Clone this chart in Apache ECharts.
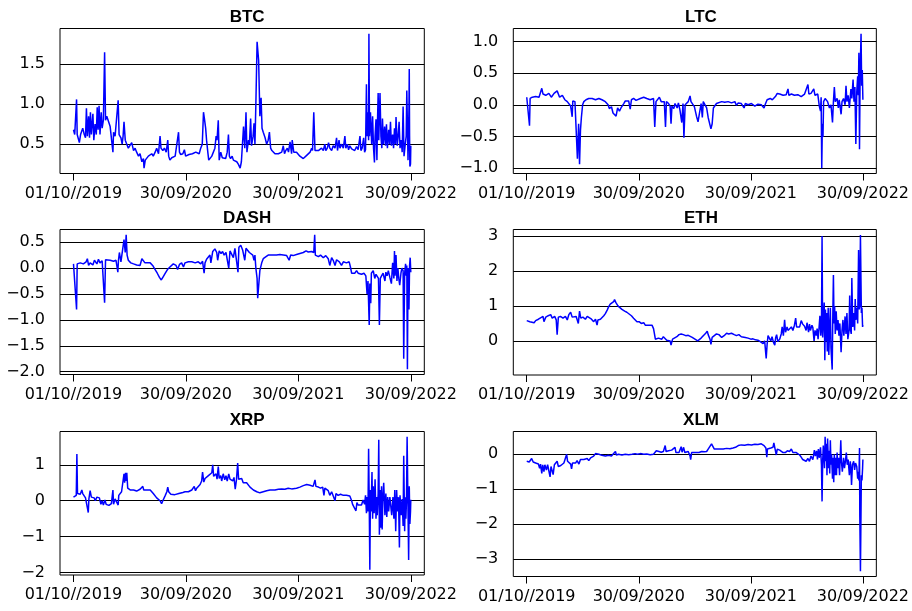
<!DOCTYPE html>
<html>
<head>
<meta charset="utf-8">
<title>Crypto series</title>
<script src="https://cdn.jsdelivr.net/npm/echarts@6/dist/echarts.min.js"></script>
<style>
  html, body { margin: 0; padding: 0; background: #fff; }
  #chart { width: 912px; height: 611px; }
</style>
</head>
<body>
<div id="chart"></div>
<script>
// Day offsets from 01/10/2019 and their axis labels
const dateTicks = [0, 365, 730, 1095];
const dateLabels = ['01/10//2019', '30/09/2020', '30/09/2021', '30/09/2022'];

// Series: [day, value]
const btc = [[0,0.68],[4,0.62],[9,0.63],[10,1.06],[12,0.62],[16,0.60],[19,0.52],[23,0.62],[27,0.60],[30,0.70],[35,0.62],[39,0.58],[42,0.95],[45,0.60],[49,0.85],[52,0.58],[55,0.90],[58,0.62],[63,0.88],[66,0.55],[70,0.75],[74,0.62],[77,0.96],[80,0.68],[83,0.98],[86,0.62],[90,0.90],[93,0.70],[97,0.80],[101,1.65],[104,0.80],[108,0.85],[114,0.78],[119,0.72],[124,0.70],[128,0.40],[130,0.65],[135,0.60],[141,0.62],[145,1.05],[148,0.62],[154,0.58],[158,0.50],[161,0.60],[164,0.78],[168,0.55],[173,0.50],[178,0.45],[184,0.45],[189,0.52],[195,0.42],[200,0.45],[205,0.40],[211,0.35],[216,0.38],[222,0.28],[227,0.32],[229,0.20],[233,0.30],[238,0.28],[243,0.35],[249,0.33],[254,0.38],[259,0.35],[265,0.40],[270,0.45],[276,0.38],[281,0.60],[284,0.45],[290,0.42],[295,0.45],[301,0.40],[306,0.55],[309,0.35],[313,0.30],[319,0.33],[324,0.32],[330,0.35],[335,0.33],[341,0.65],[344,0.40],[348,0.37],[355,0.38],[360,0.43],[364,0.35],[370,0.35],[375,0.37],[381,0.35],[386,0.38],[391,0.36],[397,0.40],[402,0.42],[408,0.38],[413,0.45],[418,0.50],[422,0.90],[425,0.82],[429,0.70],[432,0.55],[436,0.40],[439,0.30],[443,0.28],[449,0.35],[454,0.33],[459,0.45],[463,0.60],[466,0.55],[470,0.80],[473,0.30],[478,0.40],[483,0.33],[489,0.35],[494,0.32],[499,0.40],[503,0.62],[506,0.35],[510,0.32],[515,0.35],[519,0.30],[524,0.32],[530,0.28],[535,0.25],[541,0.20],[545,0.28],[549,0.30],[552,0.72],[556,0.45],[560,0.90],[563,0.40],[568,0.55],[571,0.50],[575,0.82],[578,0.48],[583,0.60],[586,0.76],[589,0.50],[592,1.00],[596,1.78],[599,1.80],[601,1.55],[603,1.20],[605,0.85],[609,1.08],[612,0.70],[616,0.65],[622,0.58],[627,0.50],[632,0.55],[636,0.65],[640,0.45],[644,0.42],[649,0.40],[654,0.38],[659,0.36],[665,0.38],[670,0.40],[676,0.40],[681,0.48],[685,0.38],[689,0.42],[694,0.45],[698,0.40],[703,0.53],[708,0.38],[710,0.55],[715,0.40],[720,0.42],[724,0.40],[730,0.38],[735,0.35],[741,0.34],[746,0.32],[751,0.33],[757,0.36],[762,0.38],[768,0.40],[773,0.45],[776,0.42],[780,0.90],[784,0.42],[789,0.40],[795,0.42],[800,0.40],[805,0.45],[811,0.42],[816,0.50],[819,0.42],[824,0.45],[828,0.52],[832,0.45],[838,0.42],[843,0.48],[849,0.45],[854,0.58],[857,0.42],[862,0.55],[865,0.45],[870,0.50],[876,0.45],[881,0.60],[884,0.45],[889,0.50],[893,0.43],[897,0.48],[903,0.44],[908,0.46],[913,0.42],[919,0.47],[924,0.43],[930,0.60],[933,0.42],[937,0.45],[942,0.58],[945,0.40],[948,0.43],[951,1.25],[953,0.60],[955,0.90],[958,0.55],[959,1.88],[961,0.60],[964,0.90],[968,0.50],[971,0.85],[974,0.45],[977,0.27],[979,0.60],[982,0.81],[985,0.30],[987,0.80],[989,1.14],[991,0.55],[995,1.14],[998,0.60],[1001,0.45],[1003,0.82],[1006,0.50],[1010,0.72],[1013,0.48],[1016,0.75],[1019,0.45],[1023,0.68],[1026,0.50],[1029,0.78],[1032,0.48],[1036,0.62],[1039,0.45],[1042,0.70],[1045,0.50],[1047,0.84],[1051,0.48],[1054,0.60],[1057,0.78],[1060,0.45],[1064,0.55],[1067,0.40],[1070,0.97],[1073,0.35],[1077,0.50],[1080,0.60],[1082,1.17],[1084,1.15],[1086,0.30],[1089,0.95],[1090,1.44],[1091,0.60],[1092,0.22],[1094,0.25],[1095,0.48]];

const ltc = [[0,0.12],[5,0.12],[9,-0.33],[11,0.10],[18,0.12],[29,0.13],[40,0.12],[49,0.26],[53,0.17],[62,0.15],[72,0.18],[80,0.12],[89,0.18],[99,0.22],[107,0.12],[116,0.15],[124,0.08],[132,0.05],[137,0.08],[143,-0.02],[148,-0.19],[150,0.06],[157,0.05],[161,0.08],[165,-0.85],[169,-0.30],[172,-0.94],[175,-0.40],[178,-0.20],[182,0.00],[186,0.05],[193,0.08],[202,0.10],[213,0.10],[224,0.08],[235,0.10],[245,0.08],[256,0.05],[265,0.00],[269,-0.06],[276,-0.03],[281,-0.13],[286,-0.10],[291,-0.18],[296,-0.05],[302,-0.10],[307,-0.05],[310,-0.08],[316,0.02],[321,0.06],[326,0.08],[332,0.06],[337,-0.07],[341,0.08],[348,0.10],[356,0.07],[362,0.10],[370,0.10],[381,0.12],[391,0.10],[402,0.08],[413,0.10],[417,-0.35],[421,0.05],[427,0.07],[432,0.12],[438,0.05],[442,0.08],[448,0.05],[452,-0.35],[455,0.05],[462,0.02],[467,-0.02],[470,-0.30],[473,-0.02],[479,-0.06],[483,0.02],[490,-0.05],[494,0.03],[499,-0.08],[505,-0.28],[509,0.02],[512,-0.52],[516,0.00],[521,-0.03],[526,0.05],[532,0.14],[535,0.05],[539,0.02],[546,-0.03],[550,-0.02],[553,-0.18],[558,-0.27],[562,-0.15],[568,0.02],[572,-0.20],[575,0.05],[580,0.02],[586,-0.05],[591,-0.20],[597,-0.32],[600,-0.38],[604,-0.30],[608,-0.05],[613,-0.02],[618,0.02],[624,0.03],[635,0.05],[645,0.04],[656,0.05],[667,0.03],[678,0.05],[683,-0.01],[689,0.03],[699,0.02],[708,-0.05],[712,0.02],[721,0.00],[732,0.02],[743,-0.02],[753,0.01],[764,0.00],[773,-0.05],[777,0.01],[783,0.08],[788,0.05],[793,0.10],[800,0.08],[805,0.05],[810,0.13],[816,0.18],[824,0.17],[829,0.19],[835,0.15],[840,0.13],[845,0.16],[851,0.25],[854,0.15],[862,0.17],[872,0.15],[883,0.16],[894,0.13],[905,0.17],[910,0.14],[916,0.32],[919,0.17],[926,0.18],[935,0.25],[939,0.15],[948,0.17],[953,-0.02],[957,-0.10],[959,0.12],[961,-1.00],[963,-0.30],[965,-0.51],[967,0.05],[972,0.10],[975,0.12],[980,0.05],[986,-0.05],[991,0.00],[996,-0.28],[999,0.05],[1002,0.28],[1005,0.05],[1011,0.10],[1015,-0.05],[1018,0.08],[1024,-0.15],[1027,0.05],[1032,0.10],[1037,0.00],[1040,0.30],[1043,0.05],[1047,0.15],[1051,-0.05],[1056,0.25],[1059,0.10],[1063,0.40],[1066,0.05],[1069,0.28],[1072,-0.62],[1075,0.20],[1078,0.45],[1080,0.15],[1082,0.82],[1084,-0.70],[1086,0.50],[1089,1.12],[1091,0.30],[1093,0.55],[1095,0.08]];

const dash = [[0,0.08],[6,0.08],[10,-0.80],[12,0.08],[22,0.10],[32,0.08],[41,0.12],[45,0.18],[49,0.05],[54,0.10],[63,0.06],[68,0.15],[76,0.08],[81,0.17],[86,0.10],[93,0.14],[97,0.17],[101,-0.67],[104,0.16],[110,0.17],[119,0.15],[130,0.13],[138,0.15],[144,-0.08],[146,0.15],[149,0.30],[154,0.12],[160,0.15],[164,0.55],[168,0.30],[171,0.64],[174,0.25],[178,0.15],[186,0.10],[195,0.08],[205,0.06],[216,0.05],[222,0.18],[227,0.15],[232,0.10],[238,0.12],[249,0.10],[257,0.05],[265,-0.03],[272,-0.10],[279,-0.18],[285,-0.23],[292,-0.16],[298,-0.10],[305,-0.03],[313,0.02],[319,0.04],[324,0.08],[333,0.05],[338,-0.03],[344,0.07],[351,0.10],[357,0.02],[362,0.10],[373,0.12],[384,0.12],[395,0.10],[405,0.12],[413,0.08],[419,0.13],[424,-0.10],[427,0.10],[432,0.17],[438,0.20],[443,0.25],[446,0.10],[452,0.32],[459,0.37],[465,0.30],[468,0.15],[473,0.33],[479,0.28],[484,0.32],[489,0.25],[495,0.30],[504,0.00],[508,0.33],[513,0.35],[519,0.20],[524,0.38],[530,0.40],[534,-0.08],[537,0.40],[543,0.44],[549,0.35],[556,0.15],[560,0.38],[564,0.40],[571,0.30],[576,0.32],[582,0.25],[586,0.15],[589,0.25],[592,0.00],[596,-0.20],[598,-0.58],[601,-0.35],[605,-0.05],[611,0.10],[616,0.18],[625,0.22],[632,0.25],[643,0.25],[649,0.28],[659,0.25],[670,0.26],[681,0.25],[692,0.24],[700,0.15],[705,0.25],[713,0.24],[724,0.26],[735,0.28],[746,0.30],[755,0.33],[762,0.31],[773,0.32],[780,0.30],[783,0.64],[785,0.25],[795,0.22],[802,0.25],[811,0.20],[819,0.24],[827,0.18],[832,0.05],[838,0.20],[843,0.15],[849,0.05],[854,0.16],[863,0.12],[870,0.05],[876,0.12],[886,0.10],[895,0.12],[899,0.02],[903,-0.10],[913,-0.10],[919,-0.05],[924,-0.10],[935,-0.12],[943,-0.10],[949,-0.15],[953,-0.50],[956,-0.25],[960,-1.10],[962,-0.30],[965,-0.68],[967,-0.10],[973,-0.05],[978,-0.20],[982,-0.12],[986,-0.15],[990,-0.20],[993,-1.10],[996,-0.20],[1000,-0.15],[1005,-0.10],[1011,-0.25],[1014,-0.08],[1018,-0.15],[1022,-0.05],[1027,-0.18],[1032,-0.30],[1036,0.10],[1040,-0.20],[1042,0.33],[1044,-0.15],[1047,0.25],[1050,-0.25],[1053,0.00],[1056,-0.20],[1059,-0.33],[1063,-0.10],[1066,0.00],[1070,-0.05],[1072,-1.75],[1075,-0.10],[1078,0.08],[1080,-0.15],[1082,0.05],[1084,-1.95],[1086,0.00],[1089,-0.80],[1091,0.05],[1093,0.20],[1095,-0.08]];

const eth = [[0,0.58],[5,0.60],[10,0.55],[16,0.60],[24,0.52],[29,0.58],[38,0.62],[45,0.66],[53,0.70],[56,0.55],[62,0.68],[70,0.72],[78,0.75],[83,0.65],[91,0.70],[96,0.60],[99,0.18],[103,0.68],[110,0.70],[118,0.65],[126,0.70],[132,0.60],[137,0.75],[143,0.82],[148,0.68],[154,0.72],[161,0.70],[168,0.50],[172,0.85],[176,0.65],[183,0.68],[191,0.62],[197,0.70],[202,0.65],[211,0.62],[218,0.55],[224,0.62],[229,0.45],[232,0.60],[240,0.62],[245,0.65],[251,0.72],[256,0.78],[262,0.88],[267,0.98],[272,1.05],[278,1.05],[283,1.12],[286,1.18],[290,1.10],[294,1.15],[297,1.00],[303,0.95],[310,0.90],[319,0.85],[326,0.82],[332,0.78],[341,0.72],[348,0.65],[353,0.60],[359,0.55],[366,0.55],[373,0.50],[381,0.52],[386,0.45],[391,0.50],[397,0.45],[402,0.42],[408,0.45],[413,0.35],[416,0.20],[419,0.05],[424,0.10],[429,0.08],[435,0.12],[440,0.05],[445,0.12],[451,0.10],[456,0.02],[462,0.05],[467,0.00],[470,-0.12],[475,0.05],[481,0.10],[489,0.12],[496,0.18],[503,0.20],[510,0.18],[518,0.15],[526,0.16],[532,0.12],[539,0.10],[548,0.05],[557,0.00],[562,0.03],[568,0.08],[575,0.15],[583,0.22],[588,0.28],[591,0.18],[597,0.05],[600,-0.10],[604,0.10],[611,0.15],[618,0.20],[626,0.18],[635,0.10],[643,0.15],[651,0.22],[658,0.20],[667,0.22],[676,0.18],[683,0.15],[691,0.18],[699,0.12],[705,0.08],[712,0.10],[721,0.08],[730,0.05],[737,0.06],[745,0.03],[753,0.02],[762,-0.03],[770,-0.08],[775,0.00],[780,-0.50],[783,-0.10],[786,0.15],[791,0.10],[795,0.00],[799,0.12],[804,-0.05],[808,-0.12],[811,0.10],[814,0.18],[818,-0.02],[824,0.05],[829,0.20],[832,0.40],[836,0.15],[840,0.60],[843,0.25],[848,0.40],[851,0.30],[856,0.35],[862,0.40],[867,0.30],[872,0.45],[876,0.65],[879,0.40],[883,0.45],[889,0.40],[894,0.58],[899,0.48],[905,0.42],[910,0.30],[913,0.52],[918,0.25],[921,0.48],[924,0.30],[929,0.45],[932,0.38],[936,0.00],[939,0.30],[943,0.15],[946,0.35],[949,0.05],[952,0.35],[955,0.72],[958,0.15],[960,0.35],[962,3.00],[964,0.10],[966,0.50],[969,1.10],[971,-0.55],[973,0.90],[975,0.00],[977,0.80],[979,-0.30],[982,0.95],[984,-0.40],[987,0.50],[989,0.95],[991,-0.20],[995,-0.82],[997,0.70],[999,1.88],[1001,0.50],[1003,1.00],[1005,0.20],[1008,0.85],[1011,0.30],[1014,0.60],[1017,0.15],[1020,0.50],[1024,-0.32],[1027,0.30],[1030,0.60],[1033,0.15],[1037,0.70],[1040,0.20],[1043,0.80],[1046,0.05],[1050,0.30],[1052,1.30],[1054,0.35],[1057,0.20],[1059,1.80],[1062,0.40],[1065,0.80],[1068,0.30],[1070,1.20],[1072,0.60],[1076,0.95],[1078,0.50],[1081,2.60],[1083,0.90],[1085,1.00],[1087,3.03],[1090,0.80],[1092,0.95],[1094,0.40],[1095,0.45]];

const xrp = [[0,0.10],[5,0.12],[9,0.15],[11,1.30],[13,0.20],[17,0.15],[22,0.18],[27,0.30],[30,0.20],[35,0.15],[39,0.08],[43,0.10],[48,-0.33],[50,0.05],[54,0.28],[58,0.10],[63,0.05],[67,0.08],[71,0.00],[76,0.10],[81,0.05],[84,0.08],[89,-0.10],[93,0.00],[97,-0.12],[102,0.02],[106,-0.10],[110,-0.05],[115,-0.13],[119,-0.15],[123,-0.08],[128,0.30],[130,-0.10],[135,0.05],[141,0.10],[145,-0.12],[147,0.15],[151,0.10],[156,0.25],[160,0.30],[164,0.75],[166,0.50],[169,0.78],[171,0.55],[173,0.78],[176,0.35],[179,0.40],[184,0.30],[189,0.28],[195,0.30],[200,0.25],[205,0.27],[211,0.30],[216,0.32],[222,0.28],[225,0.40],[228,0.30],[232,0.32],[238,0.30],[243,0.32],[249,0.30],[254,0.25],[259,0.20],[265,0.15],[270,0.08],[276,0.05],[281,0.00],[286,-0.08],[290,0.00],[294,0.05],[298,0.15],[303,0.25],[306,0.38],[309,0.25],[316,0.18],[322,0.15],[329,0.17],[335,0.18],[342,0.20],[348,0.22],[355,0.23],[362,0.25],[368,0.28],[373,0.25],[378,0.22],[384,0.30],[389,0.25],[392,0.40],[396,0.28],[400,0.35],[405,0.40],[411,0.45],[416,0.55],[419,0.80],[423,0.52],[427,0.62],[432,0.65],[438,0.70],[443,0.72],[449,0.78],[452,1.00],[455,0.68],[459,0.65],[463,0.75],[466,0.60],[470,0.95],[473,0.62],[478,0.70],[481,0.55],[486,0.75],[491,0.58],[495,0.70],[499,0.55],[504,0.75],[508,0.60],[512,0.65],[517,0.55],[521,0.65],[525,0.32],[529,0.58],[533,1.05],[536,0.60],[541,0.55],[546,0.62],[551,0.50],[557,0.55],[562,0.50],[568,0.45],[573,0.38],[578,0.40],[584,0.30],[589,0.35],[595,0.25],[600,0.30],[605,0.22],[611,0.20],[616,0.25],[622,0.27],[627,0.28],[638,0.30],[643,0.32],[654,0.30],[665,0.32],[676,0.33],[686,0.32],[697,0.35],[708,0.33],[713,0.38],[724,0.35],[735,0.38],[746,0.42],[757,0.45],[768,0.43],[778,0.40],[784,0.58],[787,0.40],[795,0.38],[802,0.35],[809,0.38],[813,0.15],[816,0.35],[822,0.30],[827,0.28],[832,0.15],[838,0.25],[843,0.22],[849,0.00],[852,0.20],[859,0.15],[867,0.18],[876,0.15],[886,0.15],[897,0.13],[903,0.00],[906,-0.10],[911,-0.05],[917,-0.28],[920,-0.05],[924,-0.12],[930,-0.08],[935,-0.12],[940,0.02],[945,-0.10],[948,0.15],[951,-0.35],[953,0.10],[956,-0.30],[958,1.45],[960,0.00],[962,-1.92],[964,0.30],[966,-0.30],[969,0.80],[971,-0.50],[973,0.40],[976,-0.35],[979,0.60],[982,-0.50],[984,0.10],[986,-0.40],[989,0.20],[991,1.70],[993,-0.95],[996,0.30],[998,-0.75],[1000,0.40],[1002,-0.80],[1004,0.00],[1007,0.50],[1011,-0.40],[1014,0.20],[1017,-0.45],[1020,0.10],[1023,-0.30],[1027,0.10],[1030,0.15],[1033,-0.40],[1037,0.10],[1040,-0.50],[1043,0.30],[1046,-0.85],[1049,0.30],[1052,-0.30],[1055,0.10],[1058,-1.30],[1060,0.15],[1064,-0.40],[1067,0.05],[1070,-0.70],[1072,1.25],[1075,-0.85],[1077,0.10],[1079,-0.50],[1081,0.00],[1083,1.78],[1086,-0.30],[1088,-1.65],[1090,0.40],[1092,-0.65],[1094,-0.30],[1095,0.03]];

const xlm = [[0,-0.20],[8,-0.22],[13,-0.18],[16,-0.12],[21,-0.22],[29,-0.25],[38,-0.28],[42,-0.40],[45,-0.28],[49,-0.55],[52,-0.30],[56,-0.50],[59,-0.30],[64,-0.45],[68,-0.30],[72,-0.35],[76,-0.65],[79,-0.35],[83,-0.30],[86,-0.58],[90,-0.30],[94,-0.35],[99,-0.20],[103,-0.35],[107,-0.30],[111,-0.32],[116,-0.28],[121,-0.25],[126,-0.22],[130,0.00],[133,-0.20],[137,-0.22],[143,-0.28],[146,-0.42],[149,-0.25],[154,-0.20],[159,-0.25],[164,-0.18],[170,-0.28],[175,-0.15],[181,-0.12],[186,-0.15],[191,-0.10],[197,-0.12],[202,-0.18],[208,-0.10],[213,-0.05],[218,-0.05],[224,0.02],[229,-0.02],[235,0.00],[245,-0.03],[256,-0.05],[267,-0.03],[276,-0.05],[283,0.02],[289,0.08],[292,-0.02],[299,0.00],[310,-0.02],[321,0.00],[332,-0.01],[343,0.00],[353,0.02],[357,0.06],[360,0.00],[370,0.02],[381,0.00],[391,0.01],[402,-0.01],[413,0.00],[418,0.02],[422,0.10],[425,0.05],[431,0.08],[438,0.06],[445,0.08],[451,0.25],[454,0.08],[462,0.10],[467,0.05],[472,0.12],[478,0.08],[483,0.20],[486,0.05],[492,0.08],[496,0.05],[503,0.22],[506,0.06],[511,0.20],[515,0.05],[521,0.05],[526,0.08],[532,-0.05],[534,-0.15],[537,0.05],[543,0.08],[548,0.05],[553,0.10],[561,0.05],[570,0.08],[578,0.07],[586,0.08],[591,0.15],[597,0.10],[602,0.30],[605,0.25],[611,0.15],[618,0.15],[624,0.12],[632,0.15],[640,0.15],[651,0.17],[662,0.16],[672,0.18],[680,0.20],[689,0.25],[699,0.27],[710,0.26],[721,0.28],[732,0.27],[743,0.29],[753,0.28],[764,0.30],[773,0.25],[779,0.18],[782,-0.08],[784,0.15],[788,0.20],[795,0.18],[802,0.20],[805,0.33],[809,0.15],[813,-0.02],[816,0.15],[824,0.12],[829,0.15],[835,0.05],[838,0.10],[842,0.05],[849,0.10],[856,0.08],[862,0.15],[867,0.05],[872,0.08],[878,0.05],[883,0.05],[889,-0.02],[894,-0.08],[899,-0.15],[905,-0.10],[910,-0.20],[916,-0.12],[921,-0.20],[926,-0.05],[932,-0.15],[937,0.12],[940,-0.05],[944,0.10],[947,-0.15],[950,0.15],[953,-0.10],[957,0.20],[960,-0.30],[962,-1.35],[964,-0.20],[966,0.25],[970,-0.40],[972,0.50],[974,-0.20],[976,0.30],[978,-0.60],[980,0.45],[983,-0.40],[985,0.10],[987,-0.55],[989,0.40],[991,-0.30],[993,0.00],[996,-0.70],[998,-0.10],[1000,-0.80],[1002,0.00],[1004,-0.60],[1006,-0.10],[1009,-0.60],[1011,0.05],[1013,-0.40],[1016,-0.10],[1019,-0.60],[1023,0.40],[1025,-0.20],[1028,-0.50],[1032,-0.10],[1035,-0.40],[1038,-0.20],[1041,0.05],[1044,-0.30],[1047,-0.15],[1051,-0.60],[1054,-0.20],[1056,-0.40],[1058,-0.88],[1061,-0.30],[1065,-0.20],[1068,-0.45],[1071,-0.25],[1075,-0.35],[1078,-0.70],[1080,-0.50],[1082,-0.75],[1084,0.18],[1085,-1.80],[1087,-3.35],[1090,-0.60],[1092,-0.75],[1094,-0.40],[1095,-0.15]];

// y-axis tick values for each panel
const btcTicks = [0.5, 1.0, 1.5];
const ltcTicks = [-1.0, -0.5, 0.0, 0.5, 1.0];
const dashTicks = [-2.0, -1.5, -1.0, -0.5, 0.0, 0.5];
const ethTicks = [0, 1, 2, 3];
const xrpTicks = [-2, -1, 0, 1];
const xlmTicks = [-3, -2, -1, 0];

const LABEL_FONT = '"DejaVu Sans", "Liberation Sans", Arial, sans-serif';
const TITLE_FONT = '"Liberation Sans", Arial, Helvetica, sans-serif';

// panel placement (px) and label precision
const panels = [
  { name: 'BTC',  data: btc,  ticks: btcTicks,  dec: 1, left: 60,    top: 28.5,  width: 364.3, height: 145 },
  { name: 'LTC',  data: ltc,  ticks: ltcTicks,  dec: 1, left: 513.3, top: 28.5,  width: 365.4, height: 145 },
  { name: 'DASH', data: dash, ticks: dashTicks, dec: 1, left: 60,    top: 229.5, width: 364.3, height: 145 },
  { name: 'ETH',  data: eth,  ticks: ethTicks,  dec: 0, left: 513.3, top: 229.5, width: 365.4, height: 145.5 },
  { name: 'XRP',  data: xrp,  ticks: xrpTicks,  dec: 0, left: 60,    top: 431.5, width: 364.3, height: 143.5 },
  { name: 'XLM',  data: xlm,  ticks: xlmTicks,  dec: 0, left: 513.3, top: 431.5, width: 365.4, height: 145 }
];

// R-style 4% padding around the data range
function padded(lo, hi) {
  const d = hi - lo;
  return [lo - 0.04 * d, hi + 0.04 * d];
}
const xRange = padded(dateTicks[0], dateTicks[dateTicks.length - 1]);

const grid = [], xAxis = [], yAxis = [], series = [], title = [];

panels.forEach((p, i) => {
  const vals = p.data.map(d => d[1]);
  const yr = padded(Math.min(...vals), Math.max(...vals));

  grid.push({
    left: p.left, top: p.top, width: p.width, height: p.height,
    show: true, borderColor: '#000', borderWidth: 1, backgroundColor: 'transparent'
  });

  xAxis.push({
    type: 'value', gridIndex: i, min: xRange[0], max: xRange[1], position: 'bottom',
    axisLine: { show: false, onZero: false },
    axisTick: { show: true, customValues: dateTicks, length: 7, inside: false,
                lineStyle: { color: '#000', width: 1 } },
    axisLabel: {
      show: true, customValues: dateTicks, margin: 12,
      fontFamily: LABEL_FONT, fontSize: 16, color: '#000',
      formatter: v => dateLabels[dateTicks.indexOf(Math.round(v))] || ''
    },
    splitLine: { show: false }
  });

  yAxis.push({
    type: 'value', gridIndex: i, min: yr[0], max: yr[1],
    axisLine: { show: false },
    axisTick: { show: false, customValues: p.ticks },
    axisLabel: {
      show: true, customValues: p.ticks, margin: 15,
      fontFamily: LABEL_FONT, fontSize: 16, color: '#000',
      formatter: v => v.toFixed(p.dec).replace('-', '\u2212')
    },
    splitLine: { show: true, lineStyle: { color: '#000', width: 1 } }
  });

  series.push({
    type: 'line', xAxisIndex: i, yAxisIndex: i, data: p.data,
    showSymbol: false, symbol: 'none', animation: false,
    lineStyle: { color: '#0000ff', width: 1.5 },
    clip: true
  });

  title.push({
    text: p.name, left: p.left + p.width / 2, top: p.top - 25,
    textAlign: 'center',
    textStyle: { fontFamily: TITLE_FONT, fontSize: 17, fontWeight: 'bold', color: '#000' }
  });
});

const chart = echarts.init(document.getElementById('chart'), null, { renderer: 'canvas' });
chart.setOption({ backgroundColor: '#fff', animation: false, title, grid, xAxis, yAxis, series });
</script>
</body>
</html>
